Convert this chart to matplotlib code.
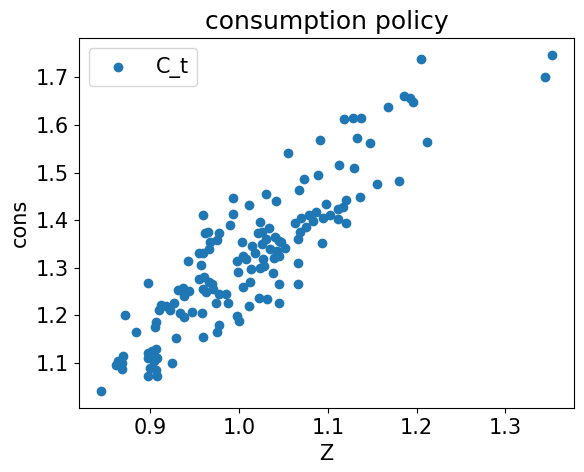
import numpy as np
from matplotlib import pyplot as plt

plt.rcParams["font.size"] = 15

# 読み取った散布点 (Z, cons)
z_vals = [1.352, 1.345, 1.205, 1.186, 1.193, 1.196, 1.168, 1.212, 1.128, 1.137, 1.118, 1.133,
          1.147, 1.091, 1.055, 1.113, 1.130, 1.089, 1.073, 1.068, 1.155, 1.180, 1.120, 1.136,
          1.030, 1.011, 1.042, 1.098, 1.111, 1.117, 1.087, 1.079, 1.103, 1.112, 1.120, 1.095,
          1.070, 1.063, 1.083, 1.069, 1.075, 1.067, 1.094, 1.052, 1.047, 1.024, 1.034, 1.026,
          1.021, 1.030, 0.993, 0.993, 0.960, 0.990, 0.977, 0.965, 0.975, 0.967, 1.040, 1.045,
          1.043, 1.035, 1.026, 1.015, 1.003, 1.018, 1.027, 1.039, 1.045, 1.005, 0.998, 1.008,
          0.999, 1.013, 1.024, 1.028, 1.038, 1.066, 1.012, 1.005, 1.045, 1.066, 1.023, 1.031,
          1.045, 1.011, 0.962, 0.960, 0.966, 0.955, 0.957, 0.943, 0.955, 0.961, 0.966, 0.959,
          0.963, 0.970, 0.971, 0.977, 0.985, 0.988, 0.974, 0.937, 0.931, 0.938, 0.944, 0.927,
          0.912, 0.918, 0.910, 0.922, 0.934, 0.938, 0.947, 0.958, 0.898, 0.872, 0.884, 0.906,
          0.905, 0.960, 0.998, 1.000, 0.978, 0.975, 0.929, 0.902, 0.898, 0.907, 0.897, 0.904,
          0.908, 0.924, 0.900, 0.906, 0.898, 0.908, 0.864, 0.869, 0.868, 0.862, 0.868, 0.845]
cons_vals = [1.748, 1.700, 1.738, 1.662, 1.657, 1.648, 1.637, 1.565, 1.615, 1.615, 1.613, 1.573,
             1.562, 1.569, 1.542, 1.517, 1.510, 1.494, 1.487, 1.464, 1.475, 1.483, 1.442, 1.449,
             1.454, 1.432, 1.441, 1.435, 1.423, 1.427, 1.417, 1.410, 1.410, 1.402, 1.395, 1.404,
             1.405, 1.395, 1.399, 1.376, 1.386, 1.360, 1.353, 1.342, 1.355, 1.397, 1.384, 1.375,
             1.372, 1.360, 1.447, 1.412, 1.410, 1.390, 1.372, 1.375, 1.358, 1.355, 1.365, 1.357,
             1.335, 1.340, 1.350, 1.345, 1.355, 1.330, 1.318, 1.320, 1.325, 1.325, 1.315, 1.318,
             1.290, 1.298, 1.300, 1.303, 1.289, 1.310, 1.270, 1.260, 1.265, 1.265, 1.237, 1.235,
             1.225, 1.220, 1.372, 1.330, 1.340, 1.330, 1.305, 1.315, 1.277, 1.280, 1.270, 1.255,
             1.250, 1.265, 1.255, 1.245, 1.245, 1.225, 1.225, 1.257, 1.253, 1.240, 1.252, 1.225,
             1.222, 1.220, 1.212, 1.212, 1.205, 1.196, 1.208, 1.205, 1.267, 1.200, 1.165, 1.185,
             1.175, 1.155, 1.198, 1.188, 1.180, 1.165, 1.152, 1.126, 1.120, 1.130, 1.110, 1.105,
             1.110, 1.100, 1.090, 1.085, 1.072, 1.072, 1.105, 1.115, 1.100, 1.095, 1.088, 1.040]

fig, ax = plt.subplots(figsize=(5.84, 4.72), dpi=100)
ax.scatter(z_vals, cons_vals, color="#1f77b4", label="C_t")
ax.set_xlabel("Z")
ax.set_ylabel("cons")
ax.set_title("consumption policy")
ax.legend(loc="upper left")
fig.subplots_adjust(left=0.135, right=0.983, top=0.92, bottom=0.135)
fig.savefig("out.png", dpi=100)
